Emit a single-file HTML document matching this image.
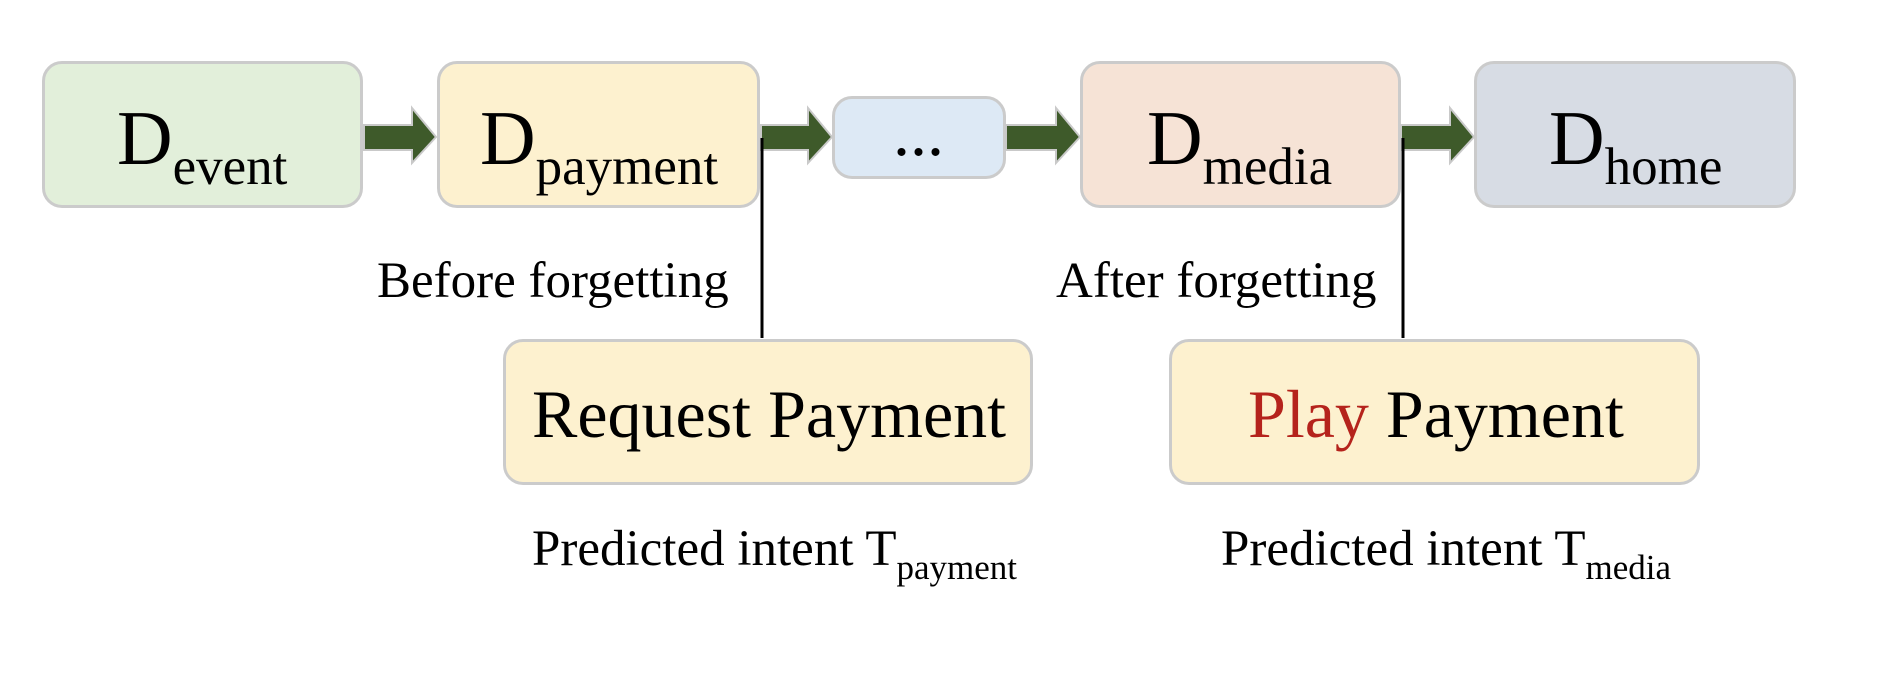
<!DOCTYPE html>
<html><head><meta charset="utf-8"><style>
body{margin:0;width:1896px;height:694px;background:#fff;position:relative;overflow:hidden;font-family:"Liberation Serif",serif;color:#000}
.b{position:absolute;box-sizing:border-box;border:3px solid #cbcbcb;border-radius:20px}
.t{position:absolute;white-space:nowrap}
.D{font-size:77px;line-height:1}
.D sub{font-size:53px;vertical-align:-20px}
.l{position:absolute;font-size:51px;white-space:nowrap;line-height:1}
.l sub{font-size:35px;vertical-align:-14px}
.big{font-size:68px;line-height:1}
</style></head><body>
<div class="b" style="left:42px;top:61px;width:321px;height:147px;background:#e2efda"></div>
<div class="b" style="left:437px;top:61px;width:323px;height:147px;background:#fdf1cf"></div>
<div class="b" style="left:832px;top:96px;width:174px;height:83px;background:#dde9f5"></div>
<div class="b" style="left:1080px;top:61px;width:321px;height:147px;background:#f6e3d6"></div>
<div class="b" style="left:1474px;top:61px;width:322px;height:147px;background:#d7dce4"></div>
<div class="b" style="left:503px;top:339px;width:530px;height:146px;background:#fdf1cf"></div>
<div class="b" style="left:1169px;top:339px;width:531px;height:146px;background:#fdf1cf"></div>
<svg width="1896" height="694" style="position:absolute;left:0;top:0">
<g fill="#3e5a2a" stroke="#c9c9c9" stroke-width="2">
<polygon points="364,125 412,125 412,108 436,137 412,163 412,150 364,150"/>
<polygon points="761,125 808,125 808,108 832,137 808,163 808,150 761,150"/>
<polygon points="1006,125 1056,125 1056,108 1080,137 1056,163 1056,150 1006,150"/>
<polygon points="1401,125 1450,125 1450,108 1474,137 1450,163 1450,150 1401,150"/>
</g>
<line x1="762" y1="138" x2="762" y2="338" stroke="#000" stroke-width="3"/>
<line x1="1403" y1="138" x2="1403" y2="338" stroke="#000" stroke-width="3"/>
</svg>
<div class="t D" style="left:117px;top:100px">D<sub>event</sub></div>
<div class="t D" style="left:480px;top:100px">D<sub>payment</sub></div>
<div class="t" style="left:893px;top:98px;font-size:68px;line-height:1">...</div>
<div class="t D" style="left:1147px;top:100px">D<sub>media</sub></div>
<div class="t D" style="left:1549px;top:100px">D<sub>home</sub></div>
<div class="l" style="left:377px;top:256px">Before forgetting</div>
<div class="l" style="left:1056px;top:256px">After forgetting</div>
<div class="t big" style="left:532px;top:380px">Request Payment</div>
<div class="t big" style="left:1248px;top:380px"><span style="color:#b5231c">Play</span> Payment</div>
<div class="l" style="left:532px;top:524px">Predicted intent T<sub>payment</sub></div>
<div class="l" style="left:1221px;top:524px">Predicted intent T<sub>media</sub></div>
</body></html>
